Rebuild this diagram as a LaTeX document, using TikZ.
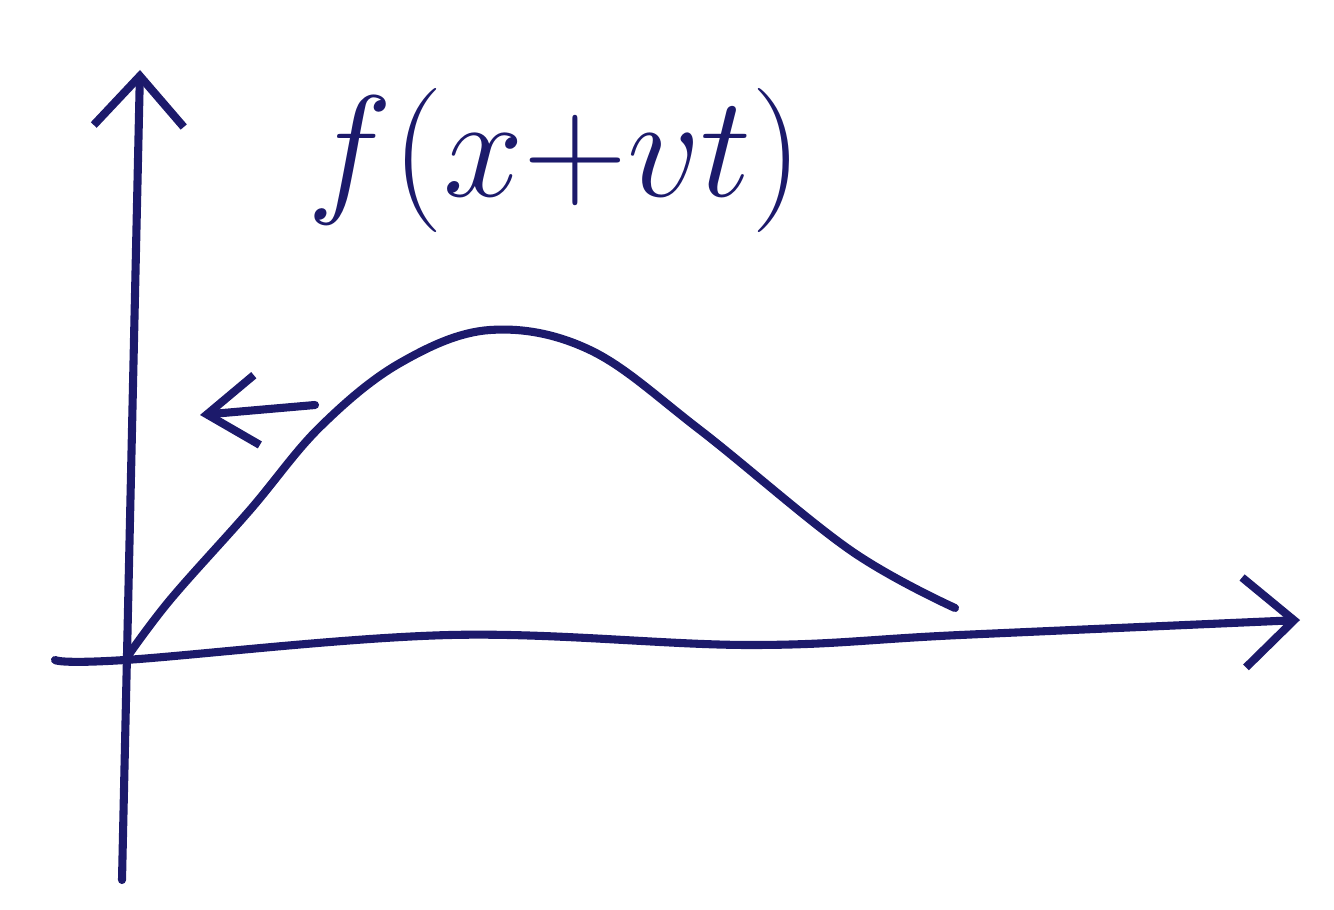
\documentclass[tikz,border=0pt]{standalone}
\usepackage{tikz}
\usetikzlibrary{arrows.meta, positioning}
\definecolor{inkblue}{HTML}{1C1A6B}

\begin{document}
\begin{tikzpicture}[
    ink/.style={draw=inkblue, line width=2.3pt, line cap=round, line join=round},
    axisarrow/.style={ink, -{Straight Barb[length=5mm, width=9mm, line width=2.3pt]}},
    movearrow/.style={ink, -{Straight Barb[length=5mm, width=7mm, line width=2.3pt]}},
    wavelabel/.style={text=inkblue, font=\Huge, scale=1.65}
]
    \useasboundingbox (0,0) rectangle (13.34,9.09);

    % Axes
    \coordinate (O) at (1.25,2.49);
    \coordinate (ybot) at (1.22,0.29);
    \coordinate (ytop) at (1.40,8.39);
    \coordinate (xleft) at (0.55,2.49);
    \coordinate (xright) at (13.0,2.89);

    \draw[axisarrow] (ybot) -- (ytop);
    \draw[axisarrow] plot[smooth, tension=0.6] coordinates {(xleft) (O) (4.5,2.74) (7.5,2.64) (9.6,2.74) (xright)};

    % Pulse
    \draw[ink] plot[smooth, tension=0.6] coordinates {(O) (1.7,3.09) (2.5,3.99) (3.2,4.82) (4.0,5.46) (4.9,5.79) (5.9,5.59) (7.0,4.79) (8.5,3.59) (9.55,3.01)};

    % Direction of travel
    \coordinate (mvstart) at (3.15,5.04);
    \coordinate (mvend) at (2.0,4.94);
    \draw[movearrow] (mvstart) -- (mvend);

    % Label
    \node[wavelabel] (lbl) at (5.55,7.49) {$f(x{+}vt)$};
\end{tikzpicture}
\end{document}
